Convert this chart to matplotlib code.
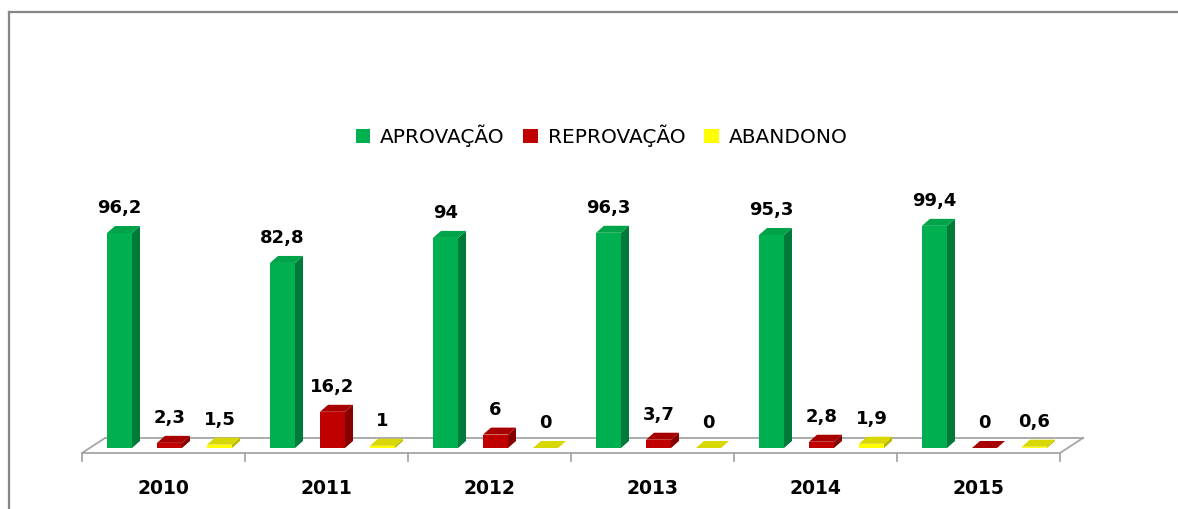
import numpy as np
import matplotlib
matplotlib.use('Agg')
from matplotlib import pyplot as plt
from matplotlib.patches import Polygon, Patch
from matplotlib.lines import Line2D

# Data
years = ['2010', '2011', '2012', '2013', '2014', '2015']
series = ['APROVAÇÃO', 'REPROVAÇÃO', 'ABANDONO']
aprovacao = [96.2, 82.8, 94, 96.3, 95.3, 99.4]
reprovacao = [2.3, 16.2, 6, 3.7, 2.8, 0]
abandono = [1.5, 1, 0, 0, 1.9, 0.6]
values = [aprovacao, reprovacao, abandono]

# face / side / top colours for the pseudo 3D bars
face_cols = ['#00B050', '#C00000', '#FFFF00']
side_cols = ['#007A38', '#870000', '#B8B800']
top_cols = ['#00A349', '#A80000', '#D8D800']

# Layout in pixels (figure 1178x509)
W, H = 1178, 509
cat_px = 163.0          # width of one category
px_per_unit = 2.235     # vertical pixels per value unit
x0_px, base_px = 82, 448  # left of the floor, bar base (from top)

fig = plt.figure(figsize=(W / 100, H / 100), dpi=100)
ax = fig.add_axes([0, 0, 1, 1])
ax.set_xlim(-x0_px / cat_px, (W - x0_px) / cat_px)
ax.set_ylim((base_px - H) / px_per_unit, base_px / px_per_unit)
ax.axis('off')

def dx(px):
    return px / cat_px

def dy(px):
    return px / px_per_unit

# Floor
floor_col = '#A6A6A6'
yf, yb = dy(-5), dy(10)
n = len(years)
ax.plot([0, n], [yf, yf], color=floor_col, lw=1.3, solid_capstyle='butt')
ax.plot([dx(23), n + dx(23)], [yb, yb], color=floor_col, lw=1.3)
ax.plot([0, dx(23)], [yf, yb], color=floor_col, lw=1.3)
ax.plot([n, n + dx(23)], [yf, yb], color=floor_col, lw=1.3)
for i in range(n + 1):
    ax.plot([i, i], [yf, yf - dy(8)], color=floor_col, lw=1.3)

# Bars
bw = dx(25)
ddx, ddy = dx(8), dy(7)
for j, vals in enumerate(values):
    for i, v in enumerate(vals):
        x = i + dx(25 + 50 * j)
        front = Polygon([(x, 0), (x + bw, 0), (x + bw, v), (x, v)],
                        closed=True, fc=face_cols[j], ec='none', zorder=3)
        side = Polygon([(x + bw, 0), (x + bw + ddx, ddy), (x + bw + ddx, v + ddy), (x + bw, v)],
                       closed=True, fc=side_cols[j], ec='none', zorder=3)
        top = Polygon([(x, v), (x + bw, v), (x + bw + ddx, v + ddy), (x + ddx, v + ddy)],
                      closed=True, fc=top_cols[j], ec='none', zorder=3)
        for p in (front, side, top):
            ax.add_patch(p)
        label = f'{v:g}'.replace('.', ',')
        ax.text(x + bw / 2, v + dy(20), label, ha='center', va='baseline',
                fontsize=13, fontweight='bold', color='black', zorder=4)

# Category labels
for i, yr in enumerate(years):
    ax.text(i + 0.5, dy(-40), yr, ha='center', va='center',
            fontsize=13.5, fontweight='bold', color='black')

# Legend
handles = [Patch(fc=c, ec='none') for c in face_cols]
fig.legend(handles, series, loc='center', bbox_to_anchor=(601.5 / W, 1 - 136 / H),
           ncol=3, frameon=False, fontsize=14.5, handlelength=0.7, handleheight=0.7,
           handletextpad=0.5, columnspacing=0.95)

# Chart frame (top and left edges visible)
frame_col = '#878787'
fig.add_artist(Line2D([9 / W, 1], [1 - 12 / H, 1 - 12 / H], color=frame_col, lw=1.6))
fig.add_artist(Line2D([9 / W, 9 / W], [0, 1 - 12 / H], color=frame_col, lw=1.6))

plt.savefig('out.png', dpi=100)
